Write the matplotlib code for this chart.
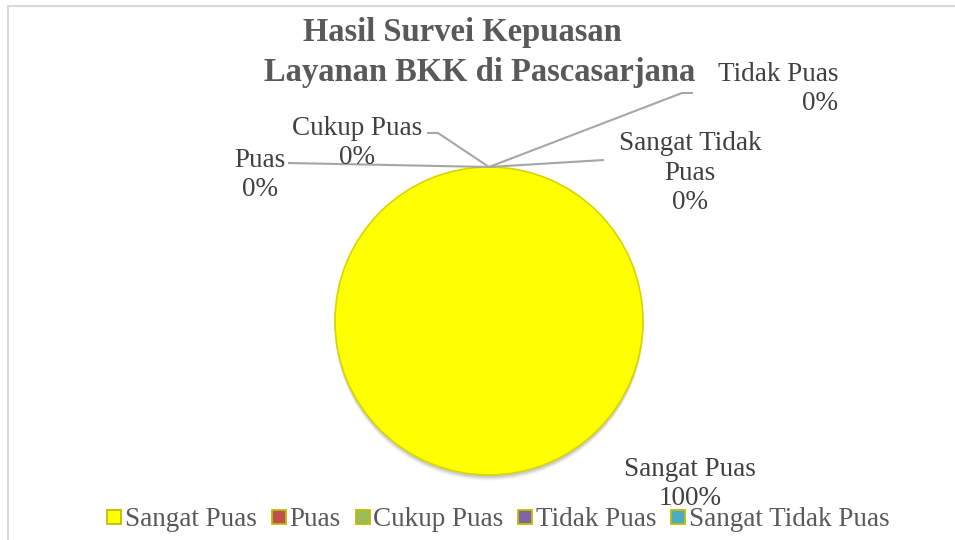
import numpy as np
import matplotlib.pyplot as plt
from matplotlib.lines import Line2D
from matplotlib.patches import Rectangle, Circle

# data survei
kategori = ['Sangat Puas', 'Puas', 'Cukup Puas', 'Tidak Puas', 'Sangat Tidak Puas']
persen = [100, 0, 0, 0, 0]
warna = ['#FFFF00', '#C0504D', '#9BBB59', '#8064A2', '#4BACC6']

plt.rcParams['font.family'] = ['Liberation Serif', 'DejaVu Serif']

W, H = 955, 540
fig = plt.figure(figsize=(W / 100, H / 100), dpi=100)
ax = fig.add_axes([0, 0, 1, 1])


def px(x, y):
    # pixel (top-left origin) -> data coords
    return x, H - y


cx, cy = px(489, 321)
r = 154

# soft shadow under the pie
for d, a in [(5, 0.05), (3.5, 0.07), (2, 0.09)]:
    ax.add_patch(Circle((cx, cy - d), r + 0.5, color='black', alpha=a, lw=0, zorder=1))

wedges, _ = ax.pie(persen, colors=warna, startangle=90, counterclock=False,
                   center=(cx, cy), radius=r,
                   wedgeprops=dict(edgecolor='#D6D600', linewidth=1.2))
for w, v in zip(wedges, persen):
    w.set_zorder(2)
    if v == 0:
        w.set_visible(False)

ax.set_xlim(0, W)
ax.set_ylim(0, H)
ax.set_aspect('equal')
ax.axis('off')

# posisi label (pixel) dan titik tekuk garis penunjuk
label_pos = {
    'Sangat Puas': (690, 484, 'center'),
    'Puas': (260, 175, 'center'),
    'Cukup Puas': (357, 143, 'center'),
    'Tidak Puas': (838, 89, 'right'),
    'Sangat Tidak Puas': (690, 173, 'center'),
}
label_txt = {
    'Sangat Tidak Puas': 'Sangat Tidak\nPuas',
}
leader = {
    'Puas': [(288, 163)],
    'Cukup Puas': [(427, 133), (438, 133)],
    'Tidak Puas': [(693, 93), (682, 93)],
    'Sangat Tidak Puas': [(604, 160)],
}

for w, nama, v in zip(wedges, kategori, persen):
    th = np.deg2rad((w.theta1 + w.theta2) / 2)
    ax_, ay_ = w.center[0] + w.r * np.cos(th), w.center[1] + w.r * np.sin(th)
    if nama in leader:
        pts = [px(*p) for p in leader[nama]] + [(ax_, ay_)]
        xs, ys = zip(*pts)
        ax.plot(xs, ys, color='#A6A6A6', lw=1.5, zorder=3, solid_capstyle='butt')
    x, y, ha = label_pos[nama]
    teks = label_txt.get(nama, nama) + '\n%d%%' % v
    ax.text(*px(x, y), teks, ha=ha, va='center', multialignment=ha,
            fontsize=19.5, color='#404040', linespacing=1.25, zorder=4)

# judul
fig.text(462 / W, 1 - 33 / H, 'Hasil Survei Kepuasan', ha='center', va='center',
         fontsize=23.5, fontweight='bold', color='#595959')
fig.text(480 / W, 1 - 72 / H, 'Layanan BKK di Pascasarjana', ha='center', va='center',
         fontsize=23.5, fontweight='bold', color='#595959')

# legenda
handles = [Line2D([], [], ls='none', marker='s', markersize=10.5, markerfacecolor=c,
                  markeredgecolor='#BDBD00', markeredgewidth=1.3) for c in warna]
fig.legend(handles, kategori, loc='center', bbox_to_anchor=(498 / W, 1 - 520 / H), ncol=5,
           frameon=False, handlelength=0.6, handletextpad=0.1, columnspacing=0.5,
           fontsize=19.5, labelcolor='#595959', borderpad=0, borderaxespad=0)

# bingkai chart
fig.patches.append(Rectangle((8 / W, -0.1), 1.2, 1 - 6 / H + 0.1, transform=fig.transFigure,
                             fill=False, edgecolor='#D9D9D9', lw=1.5))

fig.savefig('out.png', dpi=100)
